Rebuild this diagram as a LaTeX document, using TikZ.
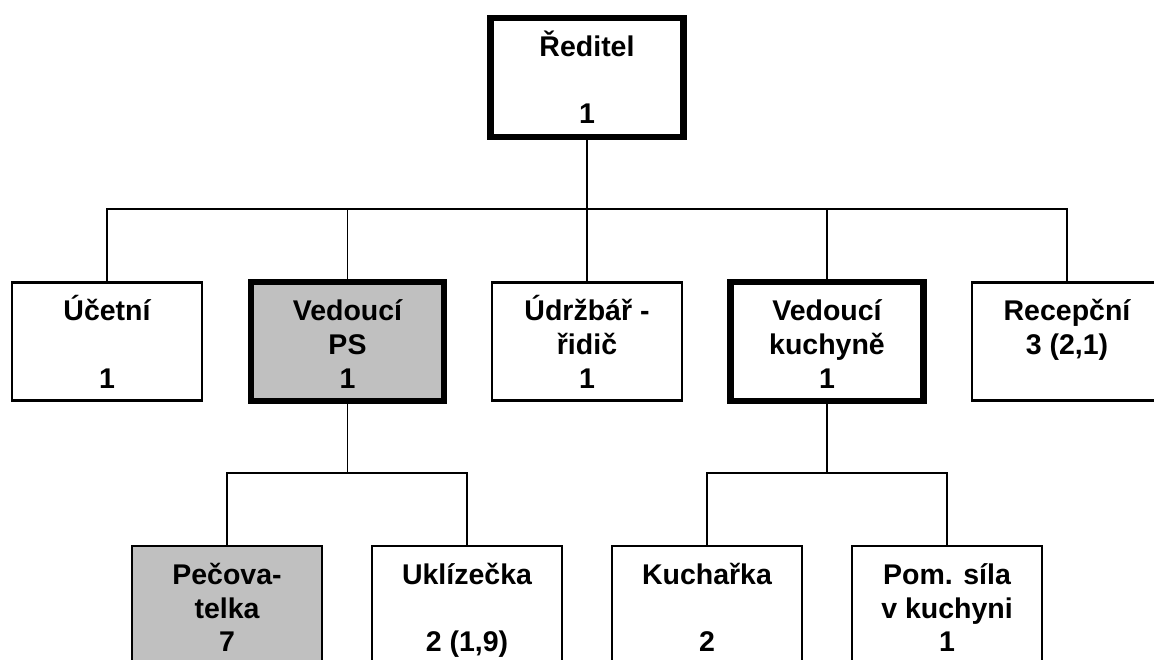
\documentclass[tikz,border=0pt]{standalone}
\usepackage{fontspec}
\setmainfont{Liberation Sans}
\usepackage{xcolor}
\definecolor{boxgrey}{HTML}{C0C0C0}

% three text lines of one box, the first one 12.6pt lower than centred
\newcommand\boxlines[3]{\raisebox{0pt}[\dimexpr\height+12.6pt\relax][\depth]{%
  \begin{tabular}{@{}c@{}}\smash{#1}\\\smash{#2}\\\smash{#3}\end{tabular}}}

\begin{document}
\begin{tikzpicture}[x=1pt, y=-1pt,
  jobbox/.style={draw, line width=2.5pt, minimum width=190pt, minimum height=118pt,
    inner sep=0pt, font=\fontsize{28.5pt}{33.5pt}\selectfont\bfseries},
  leadbox/.style={jobbox, line width=6.5pt, minimum width=193pt, minimum height=119pt},
  greybox/.style={fill=boxgrey},
  link/.style={line width=1.7pt}]
  % page frame
  \useasboundingbox (0,0) rectangle (1154,660);

  % top
  \node[leadbox] (reditel) at (587,77.5) {\boxlines{Ředitel}{}{1}};

  % second row
  \node[jobbox] (ucetni) at (107,341.5) {\boxlines{Účetní}{}{1}};
  \node[leadbox, greybox] (vedps) at (347.5,341.5) {\boxlines{Vedoucí}{PS}{1}};
  \node[jobbox] (udrzbar) at (587,341.5) {\boxlines{Údržbář -}{řidič}{1}};
  \node[leadbox] (vedkuch) at (827,341.5) {\boxlines{Vedoucí}{kuchyně}{1}};
  \node[jobbox] (recepcni) at (1067,341.5) {\boxlines{Recepční}{3 (2,1)}{}};

  % third row
  \node[jobbox, greybox] (pecov) at (227,605) {\boxlines{Pečova-}{telka}{7}};
  \node[jobbox] (uklid) at (467,605) {\boxlines{Uklízečka}{}{2 (1,9)}};
  \node[jobbox] (kuchar) at (707,605) {\boxlines{Kuchařka}{}{2}};
  \node[jobbox] (pomsila) at (947,605) {\boxlines{Pom. síla}{v kuchyni}{1}};

  % connectors
  \coordinate (bus) at (587,209);
  \coordinate (busps) at (347.5,473);
  \coordinate (buskuch) at (827,473);
  \draw[link] (reditel.south) -- (bus);
  \draw[link] (ucetni.north) |- (recepcni.north |- bus) -- (recepcni.north);
  \foreach \n in {vedps, udrzbar, vedkuch} {
    \draw[link] (\n.north) -- (\n.north |- bus);
  }
  \draw[link] (vedps.south) -- (busps);
  \draw[link] (pecov.north) |- (uklid.north |- busps) -- (uklid.north);
  \draw[link] (vedkuch.south) -- (buskuch);
  \draw[link] (kuchar.north) |- (pomsila.north |- buskuch) -- (pomsila.north);
\end{tikzpicture}
\end{document}
